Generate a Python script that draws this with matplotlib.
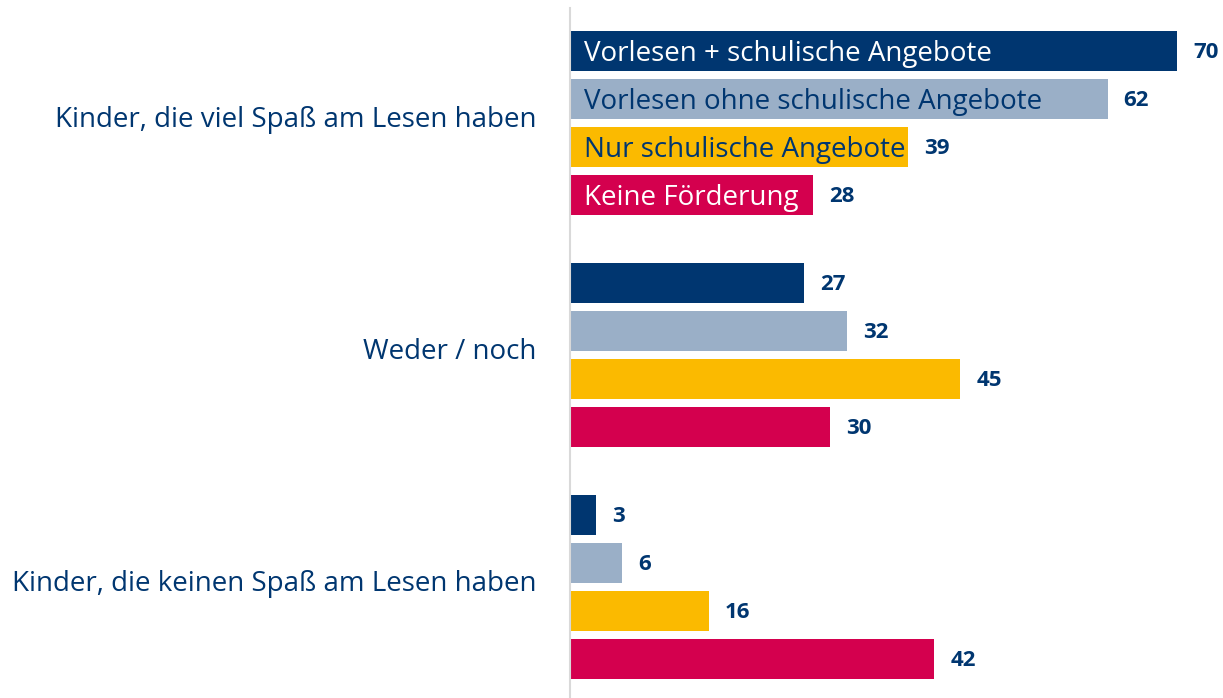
import matplotlib
matplotlib.use('Agg')
import matplotlib.pyplot as plt

'''Gruppiertes horizontales Balkendiagramm: Lesefreude nach Förderung'''

categories = ['Kinder, die viel Spaß am Lesen haben', 'Weder / noch',
              'Kinder, die keinen Spaß am Lesen haben']
series = ['Vorlesen + schulische Angebote', 'Vorlesen ohne schulische Angebote',
          'Nur schulische Angebote', 'Keine Förderung']
vorlesen_schule = [70, 27, 3]
vorlesen_ohne = [62, 32, 6]
nur_schule = [39, 45, 16]
keine = [28, 30, 42]

values = [vorlesen_schule, vorlesen_ohne, nur_schule, keine]
colors = ['#003670', '#9AAFC7', '#FBBA00', '#D4004E']
inner_text = ['white', '#003670', '#003670', 'white']
navy = '#003670'

plt.rcParams['font.family'] = ['Open Sans', 'DejaVu Sans']

fig = plt.figure(figsize=(12.23, 6.98), dpi=100)
# Achse beginnt bei x=570px, oben y=8px
ax = fig.add_axes([570 / 1223, 0, 653 / 1223, 690 / 698])

group_step = 232 / 48
for s, vals in enumerate(values):
    ys = [g * group_step + s for g in range(len(categories))]
    ax.barh(ys, vals, height=40 / 48, color=colors[s], left=0)
    for y, v in zip(ys, vals):
        ax.annotate(str(v), (v, y), xytext=(11.5, -1), textcoords='offset points',
                    va='center', ha='left', fontsize=16, fontweight='bold', color=navy)
    # Legende im ersten Balken
    ax.annotate(series[s], (0, s), xytext=(10, -2), textcoords='offset points',
                va='center', ha='left', fontsize=20, color=inner_text[s])

for g, cat in enumerate(categories):
    yc = g * group_step + 1.5
    ax.annotate(cat, (0, yc), xytext=(-24, 2), textcoords='offset points',
                va='center', ha='right', fontsize=20, color=navy,
                annotation_clip=False)

ax.set_xlim(0, 653 / (607 / 70))
ax.set_ylim(13.48, -43 / 48)
ax.set_xticks([])
ax.set_yticks([])
for side in ['top', 'right', 'bottom']:
    ax.spines[side].set_visible(False)
ax.spines['left'].set_color('#d9d9d9')
ax.spines['left'].set_linewidth(1.5)

fig.savefig('out.png', dpi=100)
